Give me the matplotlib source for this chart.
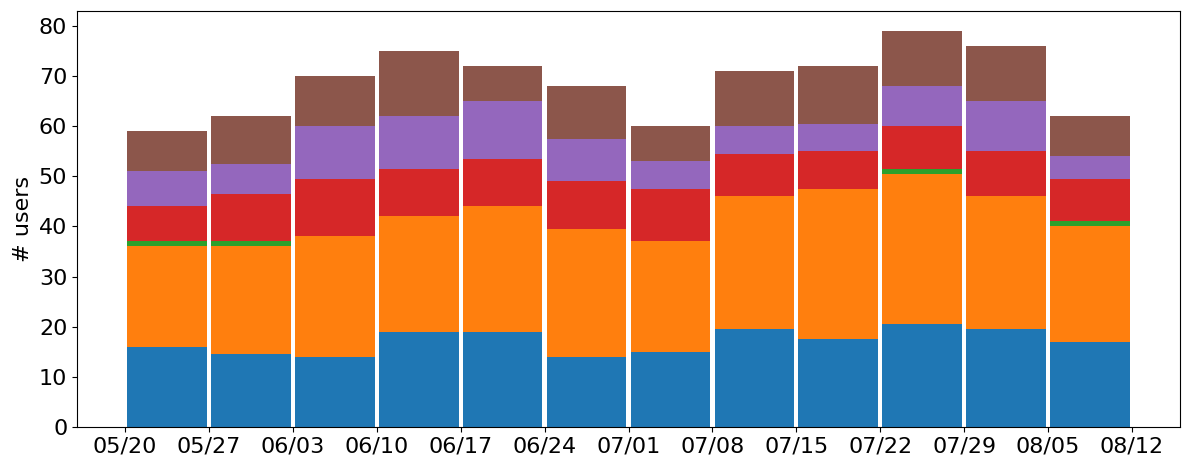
import matplotlib
matplotlib.use("Agg")
import matplotlib.pyplot as plt
import matplotlib.dates as mdates
import numpy as np
import datetime as dt

weeks = ["2019-05-20", "2019-05-27", "2019-06-03", "2019-06-10", "2019-06-17", "2019-06-24",
         "2019-07-01", "2019-07-08", "2019-07-15", "2019-07-22", "2019-07-29", "2019-08-05"]
tick_dates = weeks + ["2019-08-12"]

blue = [16, 14.5, 14, 19, 19, 14, 15, 19.5, 17.5, 20.5, 19.5, 17]
orange = [20, 21.5, 24, 23, 25, 25.5, 22, 26.5, 30, 30, 26.5, 23]
green = [1, 1, 0, 0, 0, 0, 0, 0, 0, 1, 0, 1]
red = [7, 9.5, 11.5, 9.5, 9.5, 9.5, 10.5, 8.5, 7.5, 8.5, 9, 8.5]
purple = [7, 6, 10.5, 10.5, 11.5, 8.5, 5.5, 5.5, 5.5, 8, 10, 4.5]
brown = [8, 9.5, 10, 13, 7, 10.5, 7, 11, 11.5, 11, 11, 8]

series = [(blue, "#1f77b4"), (orange, "#ff7f0e"), (green, "#2ca02c"),
          (red, "#d62728"), (purple, "#9467bd"), (brown, "#8c564b")]

x = [dt.datetime.strptime(w, "%Y-%m-%d") + dt.timedelta(days=3.5) for w in weeks]
ticks = [dt.datetime.strptime(w, "%Y-%m-%d") for w in tick_dates]

fig = plt.figure(figsize=(11.89, 4.70), dpi=100)
ax = fig.add_axes([77/1189, 1 - 427/470, (1180-77)/1189, (427-11)/470])

bottom = np.zeros(len(weeks))
for vals, col in series:
    ax.bar(x, vals, width=7 * 0.95, bottom=bottom, color=col, align="center")
    bottom += np.array(vals)

ax.set_xticks(ticks)
ax.xaxis.set_major_formatter(mdates.DateFormatter("%m/%d"))
ax.tick_params(axis="both", labelsize=16)
ax.set_ylabel("# users", fontsize=16)

fig.savefig("out.png", dpi=100)
